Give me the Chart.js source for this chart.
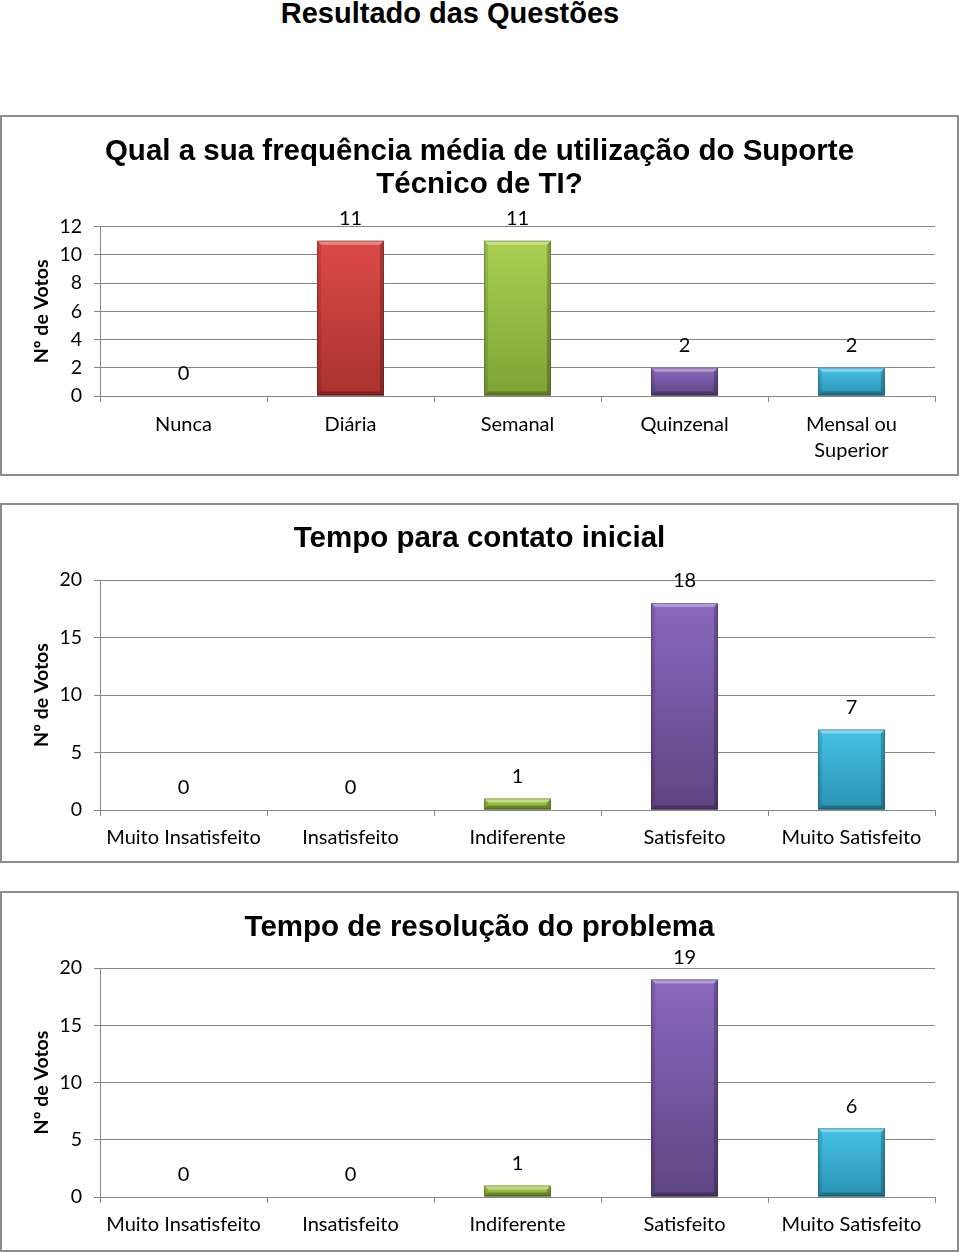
<!DOCTYPE html>
<html><head><meta charset="utf-8">
<script src="https://cdn.jsdelivr.net/npm/chart.js@4"></script>
<style>
body{margin:0;background:#fff;width:960px;height:1252px;position:relative;overflow:hidden;font-family:'Liberation Sans',Arial,sans-serif;}
#pagetitle{position:absolute;left:0;width:900px;top:-4px;text-align:center;font-weight:bold;font-size:29px;line-height:34px;color:#000;}
.box{position:absolute;left:0;width:955px;border:2px solid #8c8c8c;background:#fff;}
.box canvas{display:block;}
</style></head><body>
<div id="pagetitle">Resultado das Questões</div>
<div class="box" style="top:115px;height:357px"><canvas id="c1" width="955" height="357"></canvas></div>
<div class="box" style="top:503px;height:356px"><canvas id="c2" width="955" height="356"></canvas></div>
<div class="box" style="top:891px;height:357px"><canvas id="c3" width="955" height="357"></canvas></div>
<script>
// ---- data ----
const freqTitle = ['Qual a sua frequência média de utilização do Suporte', 'Técnico de TI?'];
const freqCategories = ['Nunca', 'Diária', 'Semanal', 'Quinzenal', ['Mensal ou', 'Superior']];
const freqVotes = [0, 11, 11, 2, 2];
const freqAxis = [0, 12, 2]; // min, max, step

const contactTitle = 'Tempo para contato inicial';
const resolutionTitle = 'Tempo de resolução do problema';
const satCategories = ['Muito Insatisfeito', 'Insatisfeito', 'Indiferente', 'Satisfeito', 'Muito Satisfeito'];
const contactVotes = [0, 0, 1, 18, 7];
const resolutionVotes = [0, 0, 1, 19, 6];
const satAxis = [0, 20, 5];

const yAxisTitle = 'Nº de Votos';

// ---- styles ----
const palette = ['#4F81BD', '#C0504D', '#9BBB59', '#8064A2', '#4BACC6'];
const shades = [
  ['#5a8fd0', '#3d6aa0'],
  ['#dc4a47', '#a9322f'],
  ['#abd052', '#7fa336'],
  ['#8a68be', '#5f4584'],
  ['#45c1e6', '#2b93b3']
];
const tickFont = 'Lato';
const gridColor = '#868686';

function poly(ctx, pts, fill) {
  ctx.beginPath();
  ctx.moveTo(pts[0][0], pts[0][1]);
  for (let i = 1; i < pts.length; i++) ctx.lineTo(pts[i][0], pts[i][1]);
  ctx.closePath();
  ctx.fillStyle = fill;
  ctx.fill();
}

const bevelPlugin = {
  id: 'bevelAndLabels',
  afterDatasetsDraw(chart) {
    const ctx = chart.ctx;
    const meta = chart.getDatasetMeta(0);
    const data = chart.data.datasets[0].data;
    meta.data.forEach((bar, i) => {
      const p = bar.getProps(['x', 'y', 'base', 'width'], true);
      const x0 = p.x - p.width / 2, x1 = p.x + p.width / 2;
      const y0 = Math.min(p.y, p.base), y1 = Math.max(p.y, p.base);
      const h = y1 - y0;
      ctx.save();
      if (h >= 1) {
        const s = shades[i % shades.length];
        const g = ctx.createLinearGradient(0, y0, 0, y1);
        g.addColorStop(0, s[0]);
        g.addColorStop(1, s[1]);
        ctx.fillStyle = g;
        ctx.fillRect(x0, y0, x1 - x0, h);
        const b = Math.min(4, h / 2);
        poly(ctx, [[x0, y0], [x1, y0], [x1 - b, y0 + b], [x0 + b, y0 + b]], 'rgba(255,255,255,0.35)');
        poly(ctx, [[x0, y0], [x0 + b, y0 + b], [x0 + b, y1 - b], [x0, y1]], 'rgba(0,0,0,0.10)');
        poly(ctx, [[x1, y0], [x1 - b, y0 + b], [x1 - b, y1 - b], [x1, y1]], 'rgba(0,0,0,0.22)');
        poly(ctx, [[x0, y1], [x0 + b, y1 - b], [x1 - b, y1 - b], [x1, y1]], 'rgba(0,0,0,0.25)');
        ctx.strokeStyle = 'rgba(0,0,0,0.25)';
        ctx.lineWidth = 1;
        ctx.strokeRect(x0 + 0.5, y0 + 0.5, x1 - x0 - 1, h - 1);
      }
      ctx.fillStyle = '#000';
      ctx.font = '20px ' + tickFont;
      ctx.textAlign = 'center';
      ctx.textBaseline = 'middle';
      ctx.fillText(String(data[i]), p.x, y0 - 22);
      ctx.restore();
    });
  }
};

function makeChart(id, cats, vals, axis, title, titlePad, xHeight, xPad) {
  return new Chart(document.getElementById(id), {
    type: 'bar',
    data: {
      labels: cats,
      datasets: [{
        data: vals,
        backgroundColor: palette,
        borderWidth: 0,
        barPercentage: 0.4,
        categoryPercentage: 1
      }]
    },
    options: {
      responsive: false,
      animation: false,
      layout: { padding: 0 },
      plugins: {
        legend: { display: false },
        tooltip: { enabled: false },
        title: {
          display: true,
          text: title,
          color: '#000',
          font: { family: "'Liberation Sans', Arial, sans-serif", size: 29.5, weight: 'bold', lineHeight: 1.13 },
          padding: { top: titlePad[0], bottom: titlePad[1] }
        }
      },
      scales: {
        x: {
          grid: { display: true, drawOnChartArea: false, drawTicks: true, tickLength: 6, color: gridColor, offset: true },
          border: { display: true, color: gridColor },
          ticks: { color: '#000', font: { family: tickFont, size: 20, lineHeight: 1.3 }, padding: xPad, maxRotation: 0, autoSkip: false },
          afterFit(s) { s.height = xHeight; }
        },
        y: {
          min: axis[0], max: axis[1],
          ticks: { stepSize: axis[2], color: '#000', font: { family: tickFont, size: 19.5 }, padding: 12 },
          grid: { color: gridColor, tickLength: 6 },
          border: { display: true, color: gridColor },
          title: { display: true, text: yAxisTitle, color: '#000', font: { family: tickFont, size: 19.5, weight: 'bold', lineHeight: 1.2 }, padding: { top: 28.3, bottom: 0 } },
          afterFit(s) { s.width = 98; }
        },
        yRight: {
          position: 'right',
          display: true,
          grid: { display: false },
          border: { display: false },
          ticks: { display: false },
          afterFit(s) { s.width = 22; }
        }
      }
    },
    plugins: [bevelPlugin]
  });
}

makeChart('c1', freqCategories, freqVotes, freqAxis, freqTitle, [18.3, 24.7], 78, 9.5);
makeChart('c2', satCategories, contactVotes, satAxis, contactTitle, [17.5, 24.2], 51, 8.5);
makeChart('c3', satCategories, resolutionVotes, satAxis, resolutionTitle, [17.8, 23.9], 53, 8.5);
</script>
</body></html>
